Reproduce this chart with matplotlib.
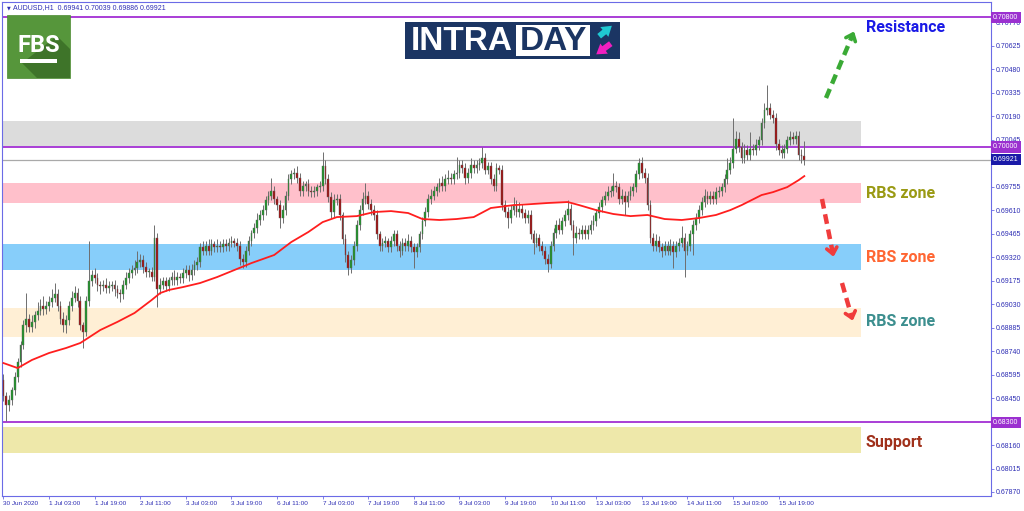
import numpy as np
import matplotlib.pyplot as plt
import matplotlib.transforms as mtransforms
from matplotlib.patches import Rectangle, Polygon, FancyArrowPatch

plt.rcParams['font.family'] = ['Liberation Sans', 'DejaVu Sans']

# ---------------- data ----------------
symbol = 'AUDUSD,H1'
last_ohlc = ['0.69941', '0.70039', '0.69886', '0.69921']

first_open = 0.6856
# hourly closes, pips above 0.68000
close_pips = [
    46, 41, 44, 50, 58, 67, 78, 90, 94, 89, 92, 96, 99, 102, 100, 102, 104, 107, 109, 102,
    94, 90, 93, 102, 107, 110, 105, 90, 86, 105, 117, 121, 119, 115, 114, 115, 113, 114, 115, 112,
    110, 109, 115, 119, 122, 124, 125, 129, 130, 126, 123, 123, 120, 144, 112, 115, 117, 114, 118, 120,
    118, 120, 119, 122, 124, 121, 124, 127, 129, 138, 136, 139, 136, 140, 138, 139, 138, 140, 139, 141,
    142, 141, 139, 131, 129, 136, 142, 147, 150, 155, 158, 161, 167, 170, 173, 168, 164, 156, 161, 170,
    180, 183, 184, 181, 173, 176, 177, 173, 172, 173, 175, 176, 188, 180, 169, 160, 167, 168, 158, 143,
    133, 125, 130, 139, 152, 161, 168, 170, 165, 161, 158, 146, 139, 141, 142, 138, 142, 146, 139, 136,
    141, 139, 142, 138, 135, 138, 146, 154, 160, 168, 170, 173, 175, 178, 176, 180, 181, 180, 183, 184,
    189, 187, 181, 184, 189, 187, 189, 190, 193, 186, 188, 180, 176, 187, 186, 164, 160, 156, 161, 164,
    160, 162, 159, 156, 158, 146, 141, 144, 139, 136, 131, 128, 139, 147, 152, 149, 154, 158, 162, 152,
    144, 147, 146, 149, 146, 149, 152, 154, 159, 163, 167, 170, 172, 173, 176, 175, 168, 170, 166, 170,
    173, 175, 183, 190, 184, 181, 164, 144, 139, 142, 138, 136, 139, 136, 139, 135, 139, 141, 144, 136,
    139, 146, 152, 156, 161, 166, 170, 168, 170, 168, 172, 173, 175, 180, 186, 190, 199, 205, 200, 193,
    198, 195, 199, 198, 201, 204, 215, 223, 224, 220, 218, 202, 198, 196, 199, 204, 206, 205, 207, 195,
    194.1, 192.1,
]
# upper / lower shadows in pips
wick_up = [
    4, 3, 3, 2, 3, 3, 2, 3, 16, 3, 4, 3, 5, 4, 6, 3, 4, 5, 7, 3,
    3, 4, 3, 3, 4, 4, 3, 3, 2, 3, 25, 3, 4, 3, 2, 3, 4, 3, 2, 3,
    3, 2, 3, 4, 3, 3, 5, 7, 4, 3, 3, 2, 3, 8, 3, 4, 3, 3, 2, 3,
    4, 3, 2, 3, 3, 3, 4, 3, 3, 3, 4, 3, 4, 3, 2, 4, 3, 3, 3, 3,
    3, 2, 3, 3, 3, 3, 3, 2, 3, 4, 3, 3, 3, 3, 8, 3, 2, 3, 3, 3,
    3, 3, 3, 4, 3, 3, 2, 3, 3, 3, 2, 3, 9, 4, 3, 3, 4, 3, 3, 2,
    3, 3, 3, 3, 3, 3, 4, 8, 3, 3, 3, 3, 2, 3, 3, 2, 3, 3, 3, 3,
    3, 3, 4, 3, 3, 3, 2, 3, 3, 3, 4, 3, 3, 3, 4, 3, 5, 3, 3, 10,
    3, 3, 3, 3, 4, 3, 3, 3, 7, 3, 3, 3, 3, 3, 2, 3, 3, 3, 3, 5,
    3, 4, 3, 3, 3, 3, 3, 3, 2, 3, 3, 3, 3, 3, 3, 4, 3, 3, 5, 3,
    3, 4, 3, 3, 3, 3, 3, 4, 3, 3, 3, 3, 4, 3, 8, 3, 3, 4, 3, 3,
    3, 3, 3, 3, 4, 3, 3, 3, 3, 4, 3, 3, 3, 3, 4, 3, 3, 3, 7, 3,
    3, 3, 3, 3, 3, 3, 4, 3, 3, 3, 3, 3, 3, 3, 7, 4, 19, 5, 4, 3,
    4, 3, 10, 3, 4, 3, 3, 4, 14, 3, 3, 3, 3, 3, 3, 3, 4, 3, 3, 3,
    4, 9.8,
]
wick_dn = [
    3, 10, 4, 3, 3, 3, 3, 3, 4, 3, 3, 4, 3, 3, 4, 3, 3, 3, 3, 3,
    3, 4, 5, 3, 3, 3, 4, 3, 10, 3, 3, 3, 3, 4, 5, 3, 3, 3, 3, 4,
    3, 5, 3, 3, 3, 3, 3, 3, 3, 4, 3, 3, 3, 3, 11, 3, 3, 3, 3, 3,
    3, 3, 3, 3, 3, 4, 3, 3, 3, 3, 3, 3, 3, 3, 3, 3, 3, 3, 3, 3,
    3, 3, 3, 4, 4, 3, 3, 3, 3, 3, 3, 3, 3, 3, 3, 3, 3, 6, 3, 3,
    3, 3, 3, 3, 3, 3, 3, 3, 3, 3, 3, 3, 3, 3, 3, 4, 3, 3, 3, 3,
    4, 4, 3, 3, 3, 3, 3, 3, 3, 3, 3, 3, 3, 3, 3, 3, 3, 3, 3, 4,
    3, 3, 3, 3, 10, 3, 3, 3, 3, 3, 3, 3, 3, 3, 3, 3, 3, 3, 3, 3,
    3, 3, 4, 3, 3, 3, 3, 3, 3, 3, 3, 3, 3, 3, 3, 3, 3, 6, 3, 3,
    3, 3, 3, 3, 3, 3, 7, 3, 3, 3, 3, 5, 3, 3, 3, 3, 3, 3, 3, 3,
    11, 3, 3, 3, 3, 3, 3, 3, 3, 3, 3, 3, 3, 3, 3, 3, 3, 3, 8, 3,
    3, 3, 3, 3, 3, 3, 3, 3, 3, 3, 3, 4, 3, 3, 3, 10, 3, 3, 3, 16,
    3, 3, 13, 3, 3, 3, 3, 3, 3, 3, 3, 3, 3, 3, 3, 3, 3, 3, 3, 3,
    3, 3, 3, 3, 3, 3, 3, 3, 3, 3, 3, 4, 3, 3, 3, 3, 3, 3, 3, 3,
    4, 3.5,
]

# moving average (bar index, pips above 0.68000)
ma_bars = [0, 5, 10, 16, 22, 27, 34, 40, 46, 52, 55, 58, 63, 69, 75, 81, 87, 95, 101, 107,
           112, 117, 124, 130, 136, 142, 147, 153, 159, 165, 171, 179, 185, 191, 198, 202, 208,
           214, 220, 226, 232, 238, 244, 250, 255, 259, 266, 270, 275, 279, 281]
ma_pips = [66.6, 63.5, 68.5, 72.8, 75.9, 79, 87, 92, 97.5, 105.5, 109.8, 111.7, 113.5, 116,
           119.7, 124, 128.3, 133.3, 141.3, 147.5, 153.6, 156.7, 157.3, 159.8, 160.4, 159.2,
           155.5, 154.9, 155.5, 156.7, 162.3, 164.1, 164.7, 165.4, 166, 164.1, 161, 158.6,
           157.3, 158, 155.5, 154.9, 156.1, 158, 161, 164.1, 170.3, 172.1, 175.2, 179.5, 182]

time_labels = ['30 Jun 2020', '1 Jul 03:00', '1 Jul 19:00', '2 Jul 11:00', '3 Jul 03:00',
               '3 Jul 19:00', '6 Jul 11:00', '7 Jul 03:00', '7 Jul 19:00', '8 Jul 11:00',
               '9 Jul 03:00', '9 Jul 19:00', '10 Jul 11:00', '13 Jul 03:00', '13 Jul 19:00',
               '14 Jul 11:00', '15 Jul 03:00', '15 Jul 19:00']
bars_per_label = 16

ytick_first = 0.67870
ytick_step = 0.00145
ytick_count = 21

level_prices = [0.70800, 0.70000, 0.68300]
current_price = 0.69921

zone_bottoms = [0.70000, 0.69655, 0.69240, 0.68826, 0.68111]
zone_tops = [0.70160, 0.69778, 0.69400, 0.69005, 0.68271]
zone_end_bar = 300.8
zone_names = ['Resistance', 'RBS zone', 'RBS zone', 'RBS zone', 'Support']

# ---------------- derived ----------------
closes = 0.68 + np.array(close_pips) / 10000
opens = np.concatenate([[first_open], closes[:-1]])
highs = np.maximum(opens, closes) + np.array(wick_up) / 10000
lows = np.minimum(opens, closes) - np.array(wick_dn) / 10000
ma = 0.68 + np.array(ma_pips) / 10000
idx = np.arange(len(closes))

# ---------------- figure ----------------
W, H = 1024, 511
fig = plt.figure(figsize=(W / 100, H / 100), dpi=100)
fig.patch.set_facecolor('white')
ax = fig.add_axes([2 / W, 15 / H, 989 / W, 494 / H])
ax.set_xlim(-0.5, 346.5)
ax.set_ylim(0.678453, 0.708947)

zone_colors = ['#dcdcdc', '#ffc0cb', '#87cefa', '#ffefd5', '#eee8aa']
for b, t, c in zip(zone_bottoms, zone_tops, zone_colors):
    ax.add_patch(Rectangle((-0.5, b), zone_end_bar + 0.5, t - b, fc=c, ec='none', zorder=1))

for p in level_prices:
    ax.axhline(p, color='#a93ed6', lw=1.4, zorder=2)
ax.axhline(current_price, color='#a9a9a9', lw=0.9, zorder=2)

# candles
up = closes >= opens
body_lo = np.minimum(opens, closes)
body_h = np.maximum(np.abs(closes - opens), 0.00002)
ax.vlines(idx, lows, highs, color='#6e6e6e', lw=0.7, zorder=3)
ax.bar(idx, body_h, bottom=body_lo, width=0.62,
       color=np.where(up, '#1e9628', '#a30f0f'), edgecolor='#5f5f5f', linewidth=0.3, zorder=4)

ax.plot(ma_bars, ma, color='#ff1e1e', lw=1.3, zorder=5)

# axes styling
axis_blue = '#6b6be6'
for s in ax.spines.values():
    s.set_color(axis_blue)
    s.set_linewidth(0.8)
ax.yaxis.tick_right()
yt = [ytick_first + k * ytick_step for k in range(ytick_count)]
boxed = level_prices + [current_price]
# scale labels hidden under the price boxes are left blank, as on the terminal
ylabels = ['' if min(abs(v - b) for b in boxed) < 0.00025 else f'{v:.5f}' for v in yt]
ax.set_yticks(yt)
ax.set_yticklabels(ylabels)
ax.tick_params(axis='y', direction='out', length=2.5, width=0.6, color=axis_blue,
               labelsize=5.0, labelcolor='#2d2db4', pad=1.2)
ax.set_xticks(range(0, len(time_labels) * bars_per_label, bars_per_label))
ax.set_xticklabels(time_labels)
ax.tick_params(axis='x', direction='out', length=2.5, width=0.6, color=axis_blue,
               labelsize=4.6, labelcolor='#2d2db4', pad=1.2)
for lbl in ax.get_xticklabels():
    lbl.set_horizontalalignment('left')

# price boxes on the right scale
tr = mtransforms.blended_transform_factory(ax.transAxes, ax.transData)
box_colors = ['#9b30d0', '#9b30d0', '#9b30d0']
for p, c in zip(level_prices, box_colors):
    ax.annotate(f'{p:.5f}', xy=(1, p), xycoords=tr, xytext=(1.6, 0), textcoords='offset points',
                ha='left', va='center', fontsize=5.0, color='white', annotation_clip=False,
                bbox=dict(boxstyle='square,pad=0.3', fc=c, ec='none'), zorder=10)
ax.annotate(f'{current_price:.5f}', xy=(1, current_price), xycoords=tr, xytext=(1.6, 0),
            textcoords='offset points', ha='left', va='center', fontsize=5.0, color='white',
            annotation_clip=False, bbox=dict(boxstyle='square,pad=0.3', fc='#1a1aa8', ec='none'),
            zorder=10)

# ---------------- overlay in pixel coordinates ----------------
ov = fig.add_axes([0, 0, 1, 1], zorder=5)
ov.set_xlim(0, W)
ov.set_ylim(H, 0)
ov.axis('off')
ov.patch.set_alpha(0)

ov.text(7, 7.5, '▼', fontsize=3.5, color='#2d2db4', ha='left', va='center',
        family=['DejaVu Sans'])
ov.text(13, 7.5, symbol + '  ' + ' '.join(last_ohlc), fontsize=5.0, color='#2d2db4',
        ha='left', va='center')

# FBS logo
ov.add_patch(Rectangle((7, 15), 63, 63, fc='#56963b', ec='#4a8a30', lw=0.5))
ov.add_patch(Polygon([(22, 63), (57, 36), (70, 49), (70, 78), (37, 78)], closed=True,
                     fc='#3e7429', ec='none'))
ov.text(38.5, 45, 'FBS', fontsize=17, fontweight='bold', color='white', ha='center',
        va='center', family=['Roboto', 'DejaVu Sans'])
ov.add_patch(Rectangle((20, 59.5), 37, 3.5, fc='white', ec='none'))

# INTRADAY logo
ov.add_patch(Rectangle((405, 22), 215, 37, fc='#1b3563', ec='none'))
ov.add_patch(Rectangle((516, 25), 74, 31, fc='white', ec='none'))
ov.text(411, 41, 'INTRA', fontsize=24, fontweight='bold', color='white', ha='left', va='center')
ov.text(553, 41, 'DAY', fontsize=24, fontweight='bold', color='#1b3563', ha='center', va='center')
ov.add_patch(FancyArrowPatch((597, 38), (614, 24), arrowstyle='simple,head_width=1.3,head_length=1.0,tail_width=0.6',
                             mutation_scale=7, fc='#1fc8d2', ec='none'))
ov.add_patch(FancyArrowPatch((613, 42), (594, 56), arrowstyle='simple,head_width=1.3,head_length=1.0,tail_width=0.6',
                             mutation_scale=7, fc='#f01fc0', ec='none'))

# zone labels
label_y = [27, 193, 257, 322, 442]
label_colors = ['#1a1ae6', '#9a9a14', '#ff6633', '#3d8f8f', '#a0301a']
for name, yy, c in zip(zone_names, label_y, label_colors):
    ov.text(866, yy, name, fontsize=11.5, fontweight='bold', color=c, ha='left', va='center',
            family=['Roboto', 'DejaVu Sans'])


def dashed_arrow(start, tip, color):
    ov.plot([start[0], tip[0]], [start[1], tip[1]], color=color, lw=3.2,
            dashes=(2.2, 1.3), solid_capstyle='butt', dash_capstyle='butt')
    d = np.array(tip, float) - np.array(start, float)
    d /= np.hypot(*d)
    for s in (1, -1):
        a = np.deg2rad(40 * s)
        rot = np.array([[np.cos(a), -np.sin(a)], [np.sin(a), np.cos(a)]])
        p = np.array(tip) + rot @ (-d) * 8
        ov.plot([tip[0], p[0]], [tip[1], p[1]], color=color, lw=2.6, solid_capstyle='round')


dashed_arrow((826, 98), (853, 34), '#3aaa35')
dashed_arrow((822, 199), (833, 254), '#f03c3c')
dashed_arrow((842, 283), (852, 318), '#f03c3c')

fig.savefig('out.png', dpi=100)
